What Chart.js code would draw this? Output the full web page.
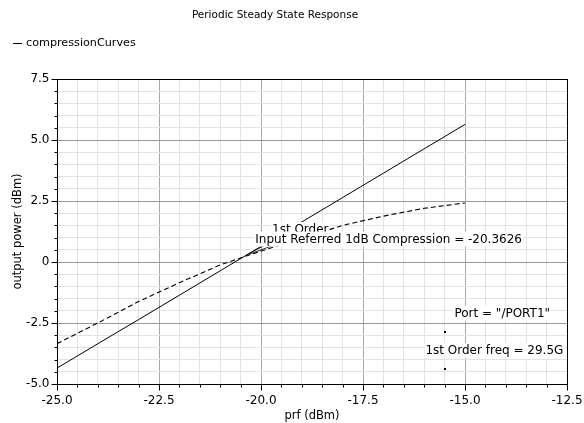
<!DOCTYPE html>
<html><head><meta charset="utf-8">
<script src="https://cdn.jsdelivr.net/npm/chart.js@4/dist/chart.umd.min.js"></script>
<style>html,body{margin:0;padding:0;background:#fff}canvas{display:block}</style>
</head><body>
<canvas id="c" width="584" height="423"></canvas>
<script>
// ---- data ----
const inputPower = [-25, -24, -23, -22, -21, -20, -19, -18, -17, -16, -15];
const firstOrderLine = [-4.35, -3.35, -2.36, -1.36, -0.36, 0.64, 1.64, 2.64, 3.64, 4.64, 5.64];
const compressionCurve = [-3.35, -2.5, -1.62, -0.85, -0.12, 0.45, 0.97, 1.5, 1.88, 2.2, 2.42];
const xTickValues = [-25, -22.5, -20, -17.5, -15, -12.5];
const xTickLabels = ['-25.0', '-22.5', '-20.0', '-17.5', '-15.0', '-12.5'];
const yTickValues = [7.5, 5, 2.5, 0, -2.5, -5];
const yTickLabels = ['7.5', '5.0', '2.5', '0', '-2.5', '-5.0'];
const compressionPoint = [-20.3626, 0.277];
const markerX = [-15.5, -15.5];
const markerY = [-2.85, -4.4];
const titleText = 'Periodic Steady State Response';
const legendText = 'compressionCurves';
const xTitle = 'prf (dBm)';
const yTitle = 'output power (dBm)';
const labelTexts = ['1st Order', 'Input Referred 1dB Compression = -20.3626', 'Port = "/PORT1"', '1st Order freq = 29.5G'];
const labelX = [-19.73, -20.14, -15.26, -15.97];
const labelY = [1.35, 0.96, -2.09, -3.61];

const FONT = '"DejaVu Sans", sans-serif';
const isMajor = v => Math.abs(v / 2.5 - Math.round(v / 2.5)) < 1e-6;

const deco = {
  id: 'deco',
  afterDatasetsDraw(chart) {
    const ctx = chart.ctx, xs = chart.scales.x, ys = chart.scales.y;
    ctx.save();
    // leader lines from compression point
    const px = xs.getPixelForValue(compressionPoint[0]), py = ys.getPixelForValue(compressionPoint[1]);
    ctx.strokeStyle = '#000'; ctx.lineWidth = 0.8;
    ctx.beginPath(); ctx.moveTo(px, py); ctx.lineTo(px + 24, py - 13); ctx.stroke();
    ctx.beginPath(); ctx.moveTo(px + 3, py - 1); ctx.lineTo(px + 30, py - 11); ctx.stroke();
    // marker dots
    ctx.fillStyle = '#000';
    for (let i = 0; i < markerX.length; i++) {
      ctx.fillRect(Math.round(xs.getPixelForValue(markerX[i])) - 1, Math.round(ys.getPixelForValue(markerY[i])) - 1, 2, 2);
    }
    // labels with white boxes
    ctx.font = '12px ' + FONT;
    ctx.textBaseline = 'middle'; ctx.textAlign = 'left';
    for (let i = 0; i < labelTexts.length; i++) {
      const lx = xs.getPixelForValue(labelX[i]), ly = ys.getPixelForValue(labelY[i]);
      const w = ctx.measureText(labelTexts[i]).width;
      ctx.fillStyle = '#fff';
      ctx.fillRect(lx - 1, ly - 7, w + 2, 15);
      ctx.fillStyle = '#000';
      ctx.fillText(labelTexts[i], lx, ly + 1);
    }
    ctx.restore();
  },
  afterDraw(chart) {
    const ctx = chart.ctx, xs = chart.scales.x, ys = chart.scales.y, a = chart.chartArea;
    ctx.save();
    // border
    ctx.strokeStyle = '#000'; ctx.lineWidth = 1;
    ctx.strokeRect(Math.round(a.left) + 0.5, Math.round(a.top) + 0.5, Math.round(a.right - a.left), Math.round(a.bottom - a.top));
    const L = Math.round(a.left) + 0.5, B = Math.round(a.bottom) + 0.5;
    // ticks
    ctx.beginPath();
    xs.ticks.forEach(t => {
      const x = Math.round(xs.getPixelForValue(t.value)) + 0.5;
      ctx.moveTo(x, B); ctx.lineTo(x, B + (isMajor(t.value) ? 6 : 3));
    });
    ys.ticks.forEach(t => {
      const y = Math.round(ys.getPixelForValue(t.value)) + 0.5;
      ctx.moveTo(L, y); ctx.lineTo(L - (isMajor(t.value) ? 6 : 3), y);
    });
    ctx.stroke();
    // tick labels
    ctx.fillStyle = '#000';
    ctx.font = '12px ' + FONT;
    ctx.textAlign = 'center'; ctx.textBaseline = 'middle';
    xTickValues.forEach((v, i) => ctx.fillText(xTickLabels[i], xs.getPixelForValue(v), B + 16));
    ctx.textAlign = 'right';
    yTickValues.forEach((v, i) => ctx.fillText(yTickLabels[i], L - 8, ys.getPixelForValue(v)));
    // title
    ctx.font = '10.5px ' + FONT;
    ctx.textAlign = 'center';
    ctx.fillText(titleText, 275, 15);
    // legend
    ctx.font = '11.2px ' + FONT;
    ctx.textAlign = 'left';
    ctx.fillText(legendText, 26, 43);
    ctx.beginPath(); ctx.moveTo(13, 43.5); ctx.lineTo(22, 43.5); ctx.stroke();
    // axis titles
    ctx.font = '11.5px ' + FONT;
    ctx.textAlign = 'center';
    ctx.fillText(xTitle, (a.left + a.right) / 2, 416);
    ctx.translate(18, (a.top + a.bottom) / 2);
    ctx.rotate(-Math.PI / 2);
    ctx.fillText(yTitle, 0, 0);
    ctx.restore();
  }
};

new Chart(document.getElementById('c'), {
  type: 'line',
  data: {
    labels: inputPower,
    datasets: [
      { label: 'firstOrder', data: inputPower.map((x, i) => ({ x, y: firstOrderLine[i] })), borderColor: '#000', borderWidth: 1, pointRadius: 0, fill: false, tension: 0 },
      { label: 'compression', data: inputPower.map((x, i) => ({ x, y: compressionCurve[i] })), borderColor: '#000', borderWidth: 1.1, borderDash: [5, 3], pointRadius: 0, fill: false, tension: 0 }
    ]
  },
  options: {
    responsive: false,
    animation: false,
    events: [],
    layout: { padding: { left: 0, right: 17, top: 79, bottom: 0 } },
    plugins: { legend: { display: false }, title: { display: false }, tooltip: { enabled: false } },
    scales: {
      x: {
        type: 'linear', min: -25, max: -12.5,
        afterFit: s => { s.height = 39; },
        ticks: { display: false, stepSize: 0.5, autoSkip: false },
        grid: { drawTicks: false, color: c => isMajor(c.tick.value) ? '#a8a8a8' : '#e3e3e3', lineWidth: 1 },
        border: { display: false }
      },
      y: {
        type: 'linear', min: -5, max: 7.5,
        afterFit: s => { s.width = 57; },
        ticks: { display: false, stepSize: 0.5, autoSkip: false },
        grid: { drawTicks: false, color: c => isMajor(c.tick.value) ? '#999999' : '#e3e3e3', lineWidth: 1 },
        border: { display: false }
      }
    }
  },
  plugins: [deco]
});
</script>
</body></html>
